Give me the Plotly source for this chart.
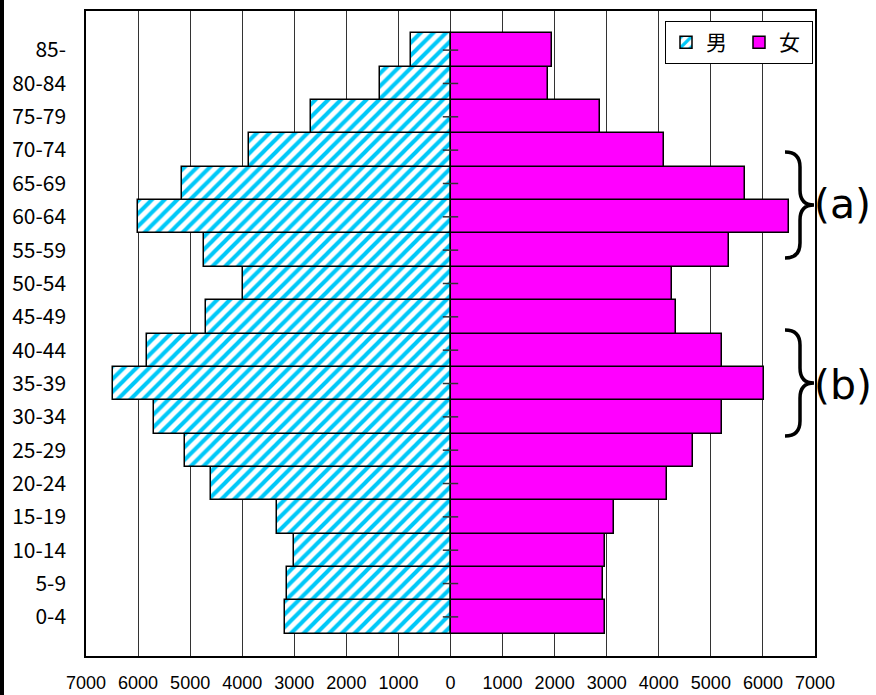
import plotly.graph_objects as go

ages = ["0-4", "5-9", "10-14", "15-19", "20-24", "25-29", "30-34", "35-39", "40-44",
        "45-49", "50-54", "55-59", "60-64", "65-69", "70-74", "75-79", "80-84", "85-"]
male = [3180, 3140, 3010, 3340, 4600, 5090, 5690, 6480, 5820,
        4700, 3980, 4730, 6010, 5160, 3870, 2680, 1360, 750]
female = [2970, 2930, 2970, 3140, 4160, 4660, 5220, 6020, 5220,
          4330, 4260, 5350, 6510, 5650, 4100, 2870, 1870, 1950]
xticks = list(range(-7000, 7001, 1000))
xticktext = [str(abs(v)) for v in xticks]

W, H = 876, 695
ML, MR, MT, MB = 86, 61, 11, 39
PW, PH = W - ML - MR, H - MT - MB

def px(x):
    return (x - ML) / PW

def py(y):
    return (H - MB - y) / PH

def brace(top, bottom, xl=785, xs=800, xt=814):
    mid = (top + bottom) / 2
    c = 15
    pts = [
        f"M{px(xl)},{py(top)}",
        f"Q{px(xs)},{py(top)} {px(xs)},{py(top + c)}",
        f"L{px(xs)},{py(mid - c)}",
        f"Q{px(xs)},{py(mid)} {px(xt)},{py(mid)}",
        f"Q{px(xs)},{py(mid)} {px(xs)},{py(mid + c)}",
        f"L{px(xs)},{py(bottom - c)}",
        f"Q{px(xs)},{py(bottom)} {px(xl)},{py(bottom)}",
    ]
    return " ".join(pts)

fig = go.Figure()
fig.add_trace(go.Bar(
    y=ages, x=[-v for v in male], orientation="h", name="男",
    marker=dict(color="white", line=dict(color="black", width=1.5),
                pattern=dict(shape="/", fgcolor="#00C8F8", bgcolor="white",
                             fgopacity=1, size=9, solidity=0.45)),
    hoverinfo="skip",
))
fig.add_trace(go.Bar(
    y=ages, x=female, orientation="h", name="女",
    marker=dict(color="#FF00FF", line=dict(color="black", width=1.5)),
    hoverinfo="skip",
))
fig.add_trace(go.Scatter(
    y=ages, x=[0] * len(ages), mode="markers", showlegend=False,
    marker=dict(symbol="line-ew", size=11, line=dict(color="#333333", width=1.5)),
    hoverinfo="skip",
))

font_jp = "Noto Sans CJK JP"

fig.update_layout(
    width=W, height=H,
    margin=dict(l=ML, r=MR, t=MT, b=MB, pad=0, autoexpand=False),
    paper_bgcolor="white", plot_bgcolor="white",
    barmode="overlay", bargap=0,
    font=dict(family=font_jp, color="black", size=18),
    legend=dict(orientation="h", x=px(813), xanchor="right", y=py(21), yanchor="top",
                bgcolor="white", bordercolor="black", borderwidth=1,
                font=dict(size=21, family=font_jp), itemwidth=30,
                entrywidth=28, entrywidthmode="pixels",
                tracegroupgap=0, traceorder="normal"),
    xaxis=dict(range=[-7000, 7000], tickvals=xticks, ticktext=xticktext,
               showgrid=True, gridcolor="#333333", gridwidth=1,
               ticks="inside", ticklen=7, tickcolor="#333333", tickwidth=1,
               showline=True, mirror=True, linecolor="black", linewidth=1.5,
               zeroline=False, tickfont=dict(size=18, family="Liberation Sans"),
               ticklabelstandoff=10, automargin=False, fixedrange=True),
    yaxis=dict(type="category", categoryorder="array", categoryarray=ages,
               showgrid=False, ticks="", showline=True, mirror=True,
               linecolor="black", linewidth=1.5, zeroline=False,
               tickfont=dict(size=21, family=font_jp),
               ticklabelstandoff=14, automargin=False, fixedrange=True),
    showlegend=True,
)

shapes = [
    dict(type="path", xref="paper", yref="paper", path=brace(152, 258),
         line=dict(color="black", width=3.5)),
    dict(type="path", xref="paper", yref="paper", path=brace(330, 436),
         line=dict(color="black", width=3.5)),
    dict(type="rect", xref="paper", yref="paper", x0=px(0), x1=px(4),
         y0=py(H), y1=py(0), fillcolor="black", line=dict(width=0)),
]
fig.update_layout(shapes=shapes)

fig.add_annotation(xref="paper", yref="paper", x=px(812), y=py(204), xanchor="left",
                   yanchor="middle", text="(a)", showarrow=False,
                   font=dict(family="DejaVu Sans", size=41, color="black"))
fig.add_annotation(xref="paper", yref="paper", x=px(812), y=py(385), xanchor="left",
                   yanchor="middle", text="(b)", showarrow=False,
                   font=dict(family="DejaVu Sans", size=41, color="black"))

post = (
    "document.body.style.margin='0';"
    "document.body.style.overflow='hidden';"
)
fig.write_html("out.html", config={"displayModeBar": False}, post_script=post)
